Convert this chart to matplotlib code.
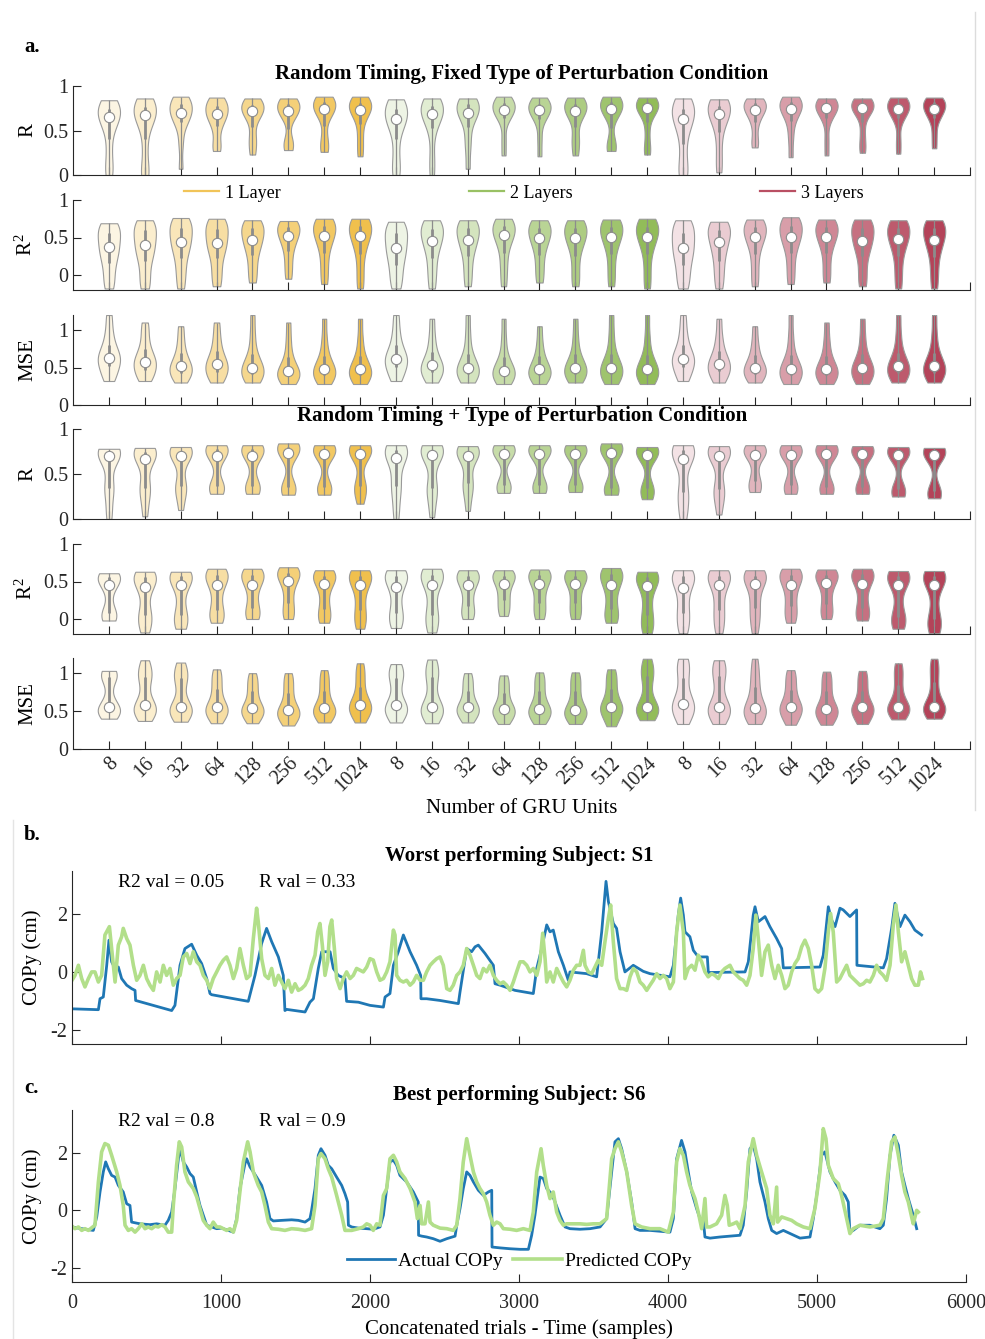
import numpy as np
import matplotlib.pyplot as plt
from matplotlib.colors import to_rgba
from matplotlib.lines import Line2D

plt.rcParams['font.family'] = ['Liberation Serif', 'DejaVu Serif']
plt.rcParams['mathtext.fontset'] = 'custom'
plt.rcParams['mathtext.rm'] = 'Liberation Serif'
plt.rcParams['mathtext.it'] = 'Liberation Serif:italic'
plt.rcParams['axes.unicode_minus'] = False

# ---------------- data ----------------
units = ['8', '16', '32', '64', '128', '256', '512', '1024']
layers = ['1 Layer', '2 Layers', '3 Layers']
layer_colors = ['#EDB120', '#77AC30', '#A2142F']

# Random timing, fixed type: per-subject scores for each network (3 layers x 8 sizes)
fixed_R = [
    [0.0, 0.1, 0.3, 0.5, 0.6, 0.65, 0.68, 0.72, 0.76, 0.8, 0.84],
    [0.0, 0.05, 0.3, 0.52, 0.62, 0.67, 0.7, 0.74, 0.78, 0.82, 0.86],
    [0.07, 0.35, 0.55, 0.63, 0.67, 0.70, 0.74, 0.78, 0.82, 0.85, 0.88],
    [0.27, 0.35, 0.5, 0.6, 0.65, 0.68, 0.72, 0.76, 0.8, 0.84, 0.87],
    [0.23, 0.35, 0.45, 0.62, 0.68, 0.72, 0.74, 0.77, 0.8, 0.83, 0.86],
    [0.28, 0.33, 0.4, 0.63, 0.69, 0.72, 0.75, 0.78, 0.81, 0.84, 0.86],
    [0.26, 0.32, 0.45, 0.65, 0.7, 0.74, 0.77, 0.8, 0.83, 0.86, 0.88],
    [0.21, 0.35, 0.5, 0.64, 0.7, 0.73, 0.76, 0.79, 0.82, 0.85, 0.88],
    [0.0, 0.1, 0.3, 0.5, 0.58, 0.63, 0.67, 0.72, 0.77, 0.81, 0.85],
    [0.0, 0.2, 0.45, 0.6, 0.65, 0.68, 0.72, 0.76, 0.8, 0.83, 0.86],
    [0.07, 0.3, 0.45, 0.62, 0.67, 0.70, 0.74, 0.78, 0.81, 0.84, 0.86],
    [0.22, 0.4, 0.6, 0.67, 0.71, 0.73, 0.76, 0.79, 0.82, 0.85, 0.88],
    [0.21, 0.4, 0.58, 0.67, 0.7, 0.73, 0.75, 0.78, 0.81, 0.84, 0.87],
    [0.22, 0.35, 0.45, 0.62, 0.68, 0.72, 0.75, 0.78, 0.81, 0.84, 0.87],
    [0.27, 0.3, 0.4, 0.65, 0.7, 0.74, 0.77, 0.8, 0.83, 0.86, 0.88],
    [0.23, 0.32, 0.5, 0.68, 0.72, 0.75, 0.77, 0.8, 0.83, 0.85, 0.87],
    [0.0, 0.05, 0.25, 0.45, 0.56, 0.63, 0.68, 0.72, 0.77, 0.82, 0.86],
    [0.03, 0.2, 0.4, 0.56, 0.63, 0.68, 0.72, 0.76, 0.8, 0.83, 0.85],
    [0.31, 0.4, 0.55, 0.65, 0.7, 0.73, 0.76, 0.79, 0.82, 0.84, 0.86],
    [0.2, 0.4, 0.55, 0.66, 0.71, 0.74, 0.77, 0.8, 0.83, 0.86, 0.88],
    [0.22, 0.4, 0.6, 0.68, 0.72, 0.75, 0.77, 0.8, 0.82, 0.84, 0.86],
    [0.25, 0.35, 0.5, 0.68, 0.72, 0.75, 0.77, 0.79, 0.82, 0.84, 0.86],
    [0.24, 0.4, 0.6, 0.68, 0.71, 0.74, 0.77, 0.8, 0.82, 0.85, 0.87],
    [0.3, 0.45, 0.6, 0.67, 0.71, 0.74, 0.77, 0.8, 0.83, 0.85, 0.87],
]
fixed_R2 = [
    [-0.18, -0.05, 0.1, 0.22, 0.3, 0.37, 0.45, 0.52, 0.6, 0.65, 0.69],
    [-0.18, -0.05, 0.12, 0.25, 0.33, 0.40, 0.48, 0.56, 0.63, 0.68, 0.73],
    [-0.18, 0.0, 0.15, 0.3, 0.38, 0.44, 0.52, 0.6, 0.66, 0.71, 0.76],
    [-0.15, 0.0, 0.15, 0.3, 0.37, 0.43, 0.51, 0.59, 0.65, 0.7, 0.75],
    [-0.1, 0.05, 0.2, 0.33, 0.41, 0.47, 0.53, 0.6, 0.65, 0.69, 0.73],
    [-0.05, 0.1, 0.25, 0.38, 0.46, 0.52, 0.57, 0.62, 0.66, 0.69, 0.72],
    [-0.12, 0.05, 0.22, 0.37, 0.46, 0.52, 0.58, 0.63, 0.68, 0.72, 0.75],
    [-0.18, 0.0, 0.2, 0.36, 0.45, 0.52, 0.58, 0.63, 0.68, 0.72, 0.75],
    [-0.18, -0.05, 0.08, 0.2, 0.29, 0.36, 0.44, 0.52, 0.59, 0.65, 0.71],
    [-0.18, 0.0, 0.15, 0.3, 0.4, 0.46, 0.53, 0.59, 0.64, 0.69, 0.73],
    [-0.15, 0.02, 0.18, 0.32, 0.41, 0.47, 0.54, 0.6, 0.65, 0.69, 0.73],
    [-0.15, 0.05, 0.22, 0.38, 0.47, 0.53, 0.58, 0.63, 0.67, 0.71, 0.75],
    [-0.1, 0.05, 0.2, 0.34, 0.43, 0.49, 0.55, 0.6, 0.65, 0.69, 0.73],
    [-0.15, 0.0, 0.18, 0.34, 0.43, 0.49, 0.55, 0.6, 0.65, 0.69, 0.73],
    [-0.15, 0.02, 0.2, 0.36, 0.45, 0.51, 0.57, 0.62, 0.67, 0.71, 0.74],
    [-0.18, 0.0, 0.2, 0.36, 0.45, 0.51, 0.57, 0.62, 0.67, 0.71, 0.75],
    [-0.18, -0.05, 0.08, 0.2, 0.29, 0.36, 0.44, 0.52, 0.6, 0.67, 0.73],
    [-0.18, -0.02, 0.12, 0.26, 0.36, 0.44, 0.51, 0.58, 0.63, 0.67, 0.71],
    [-0.15, 0.02, 0.2, 0.36, 0.45, 0.51, 0.57, 0.62, 0.66, 0.7, 0.74],
    [-0.12, 0.05, 0.22, 0.37, 0.45, 0.51, 0.57, 0.63, 0.68, 0.73, 0.77],
    [-0.1, 0.05, 0.22, 0.37, 0.45, 0.51, 0.57, 0.62, 0.66, 0.7, 0.74],
    [-0.15, 0.0, 0.18, 0.32, 0.4, 0.46, 0.53, 0.6, 0.65, 0.7, 0.74],
    [-0.18, 0.0, 0.18, 0.33, 0.42, 0.48, 0.54, 0.6, 0.65, 0.69, 0.73],
    [-0.18, 0.0, 0.17, 0.32, 0.41, 0.47, 0.54, 0.6, 0.65, 0.69, 0.73],
]
fixed_MSE = [
    [0.32, 0.4, 0.48, 0.55, 0.6, 0.63, 0.68, 0.75, 0.85, 1.0, 1.2],
    [0.32, 0.38, 0.44, 0.5, 0.55, 0.58, 0.63, 0.7, 0.8, 0.95, 1.1],
    [0.3, 0.36, 0.41, 0.45, 0.49, 0.52, 0.57, 0.64, 0.74, 0.88, 1.05],
    [0.3, 0.36, 0.42, 0.47, 0.51, 0.55, 0.6, 0.67, 0.78, 0.92, 1.1],
    [0.3, 0.35, 0.39, 0.43, 0.47, 0.5, 0.55, 0.62, 0.75, 0.95, 1.2],
    [0.28, 0.33, 0.37, 0.4, 0.43, 0.45, 0.5, 0.58, 0.7, 0.88, 1.1],
    [0.28, 0.34, 0.38, 0.42, 0.45, 0.48, 0.53, 0.6, 0.72, 0.9, 1.15],
    [0.28, 0.34, 0.38, 0.42, 0.45, 0.48, 0.53, 0.6, 0.72, 0.9, 1.15],
    [0.32, 0.4, 0.48, 0.54, 0.59, 0.62, 0.67, 0.74, 0.85, 1.0, 1.2],
    [0.3, 0.37, 0.42, 0.46, 0.5, 0.53, 0.58, 0.65, 0.77, 0.93, 1.15],
    [0.3, 0.35, 0.4, 0.44, 0.47, 0.5, 0.55, 0.62, 0.75, 0.95, 1.2],
    [0.28, 0.33, 0.37, 0.41, 0.44, 0.46, 0.51, 0.58, 0.7, 0.9, 1.15],
    [0.28, 0.34, 0.38, 0.42, 0.45, 0.48, 0.53, 0.6, 0.7, 0.85, 1.05],
    [0.3, 0.35, 0.4, 0.44, 0.47, 0.5, 0.55, 0.62, 0.74, 0.92, 1.15],
    [0.28, 0.34, 0.39, 0.43, 0.47, 0.5, 0.55, 0.62, 0.75, 0.95, 1.2],
    [0.28, 0.33, 0.38, 0.42, 0.45, 0.48, 0.53, 0.6, 0.73, 0.93, 1.2],
    [0.32, 0.4, 0.48, 0.54, 0.59, 0.62, 0.67, 0.74, 0.85, 1.0, 1.2],
    [0.3, 0.37, 0.43, 0.48, 0.52, 0.55, 0.6, 0.67, 0.78, 0.93, 1.15],
    [0.3, 0.35, 0.4, 0.44, 0.47, 0.5, 0.55, 0.62, 0.72, 0.86, 1.05],
    [0.28, 0.33, 0.38, 0.42, 0.45, 0.48, 0.53, 0.6, 0.73, 0.93, 1.2],
    [0.28, 0.33, 0.38, 0.42, 0.45, 0.48, 0.53, 0.6, 0.72, 0.88, 1.1],
    [0.28, 0.34, 0.39, 0.43, 0.47, 0.5, 0.55, 0.62, 0.74, 0.92, 1.15],
    [0.3, 0.36, 0.41, 0.45, 0.49, 0.52, 0.57, 0.64, 0.76, 0.95, 1.2],
    [0.3, 0.36, 0.41, 0.45, 0.49, 0.52, 0.57, 0.64, 0.76, 0.95, 1.2],
]

# Random timing + type
rand_R = [
    [0.0, 0.12, 0.3, 0.35, 0.4, 0.64, 0.70, 0.72, 0.74, 0.75, 0.76, 0.77, 0.78],
    [0.03, 0.18, 0.3, 0.35, 0.4, 0.6, 0.67, 0.7, 0.73, 0.75, 0.77, 0.78, 0.79],
    [0.1, 0.25, 0.32, 0.37, 0.42, 0.62, 0.70, 0.72, 0.74, 0.76, 0.78, 0.79, 0.8],
    [0.28, 0.31, 0.34, 0.37, 0.41, 0.62, 0.70, 0.73, 0.76, 0.78, 0.8, 0.81, 0.82],
    [0.28, 0.31, 0.34, 0.37, 0.42, 0.62, 0.70, 0.73, 0.76, 0.78, 0.8, 0.81, 0.82],
    [0.27, 0.3, 0.33, 0.36, 0.4, 0.66, 0.73, 0.76, 0.78, 0.8, 0.82, 0.83, 0.84],
    [0.27, 0.3, 0.33, 0.36, 0.4, 0.65, 0.72, 0.74, 0.76, 0.78, 0.8, 0.81, 0.82],
    [0.17, 0.27, 0.33, 0.37, 0.42, 0.65, 0.72, 0.74, 0.76, 0.78, 0.8, 0.81, 0.82],
    [0.0, 0.15, 0.3, 0.37, 0.45, 0.6, 0.68, 0.71, 0.74, 0.77, 0.79, 0.81, 0.82],
    [0.02, 0.18, 0.3, 0.35, 0.4, 0.64, 0.71, 0.73, 0.75, 0.77, 0.79, 0.81, 0.82],
    [0.09, 0.25, 0.34, 0.4, 0.46, 0.63, 0.70, 0.72, 0.74, 0.76, 0.78, 0.8, 0.81],
    [0.29, 0.32, 0.35, 0.38, 0.42, 0.66, 0.72, 0.74, 0.76, 0.78, 0.8, 0.81, 0.82],
    [0.29, 0.32, 0.35, 0.38, 0.42, 0.66, 0.72, 0.74, 0.76, 0.78, 0.8, 0.81, 0.82],
    [0.3, 0.32, 0.35, 0.38, 0.42, 0.66, 0.72, 0.74, 0.76, 0.78, 0.8, 0.81, 0.82],
    [0.27, 0.3, 0.33, 0.35, 0.38, 0.67, 0.73, 0.76, 0.78, 0.8, 0.82, 0.83, 0.84],
    [0.22, 0.27, 0.31, 0.34, 0.38, 0.65, 0.71, 0.73, 0.75, 0.77, 0.78, 0.79, 0.8],
    [0.0, 0.1, 0.22, 0.3, 0.36, 0.6, 0.67, 0.71, 0.74, 0.77, 0.79, 0.81, 0.82],
    [0.05, 0.2, 0.28, 0.33, 0.4, 0.63, 0.70, 0.72, 0.74, 0.76, 0.78, 0.8, 0.81],
    [0.3, 0.33, 0.37, 0.42, 0.5, 0.65, 0.71, 0.73, 0.75, 0.77, 0.79, 0.81, 0.82],
    [0.28, 0.31, 0.34, 0.38, 0.44, 0.65, 0.71, 0.73, 0.75, 0.77, 0.79, 0.81, 0.82],
    [0.28, 0.3, 0.33, 0.36, 0.4, 0.67, 0.72, 0.74, 0.76, 0.78, 0.8, 0.81, 0.82],
    [0.28, 0.3, 0.33, 0.36, 0.4, 0.67, 0.72, 0.74, 0.76, 0.77, 0.79, 0.8, 0.81],
    [0.25, 0.27, 0.3, 0.33, 0.37, 0.67, 0.71, 0.73, 0.75, 0.76, 0.78, 0.79, 0.8],
    [0.23, 0.25, 0.28, 0.31, 0.35, 0.67, 0.71, 0.73, 0.74, 0.76, 0.77, 0.78, 0.79],
]
rand_R2 = [
    [-0.02, 0.0, 0.04, 0.08, 0.15, 0.35, 0.46, 0.5, 0.53, 0.56, 0.58, 0.6, 0.61],
    [-0.18, -0.1, 0.0, 0.05, 0.12, 0.3, 0.43, 0.48, 0.52, 0.56, 0.59, 0.61, 0.63],
    [-0.13, -0.08, 0.0, 0.05, 0.15, 0.32, 0.45, 0.5, 0.54, 0.57, 0.6, 0.62, 0.63],
    [-0.05, 0.0, 0.05, 0.12, 0.22, 0.35, 0.45, 0.5, 0.55, 0.59, 0.62, 0.65, 0.67],
    [0.0, 0.03, 0.08, 0.15, 0.25, 0.37, 0.46, 0.51, 0.55, 0.59, 0.62, 0.65, 0.67],
    [0.0, 0.05, 0.12, 0.22, 0.32, 0.43, 0.51, 0.55, 0.59, 0.62, 0.65, 0.67, 0.69],
    [-0.05, 0.0, 0.06, 0.14, 0.25, 0.38, 0.47, 0.51, 0.55, 0.58, 0.61, 0.63, 0.65],
    [-0.13, -0.05, 0.03, 0.12, 0.23, 0.36, 0.45, 0.5, 0.54, 0.58, 0.61, 0.63, 0.65],
    [-0.12, -0.05, 0.02, 0.08, 0.18, 0.32, 0.43, 0.49, 0.54, 0.58, 0.61, 0.63, 0.65],
    [-0.18, -0.1, 0.0, 0.06, 0.16, 0.33, 0.46, 0.51, 0.55, 0.59, 0.62, 0.65, 0.67],
    [0.0, 0.05, 0.1, 0.18, 0.28, 0.38, 0.46, 0.5, 0.54, 0.58, 0.61, 0.63, 0.65],
    [0.04, 0.1, 0.18, 0.25, 0.32, 0.4, 0.47, 0.51, 0.55, 0.58, 0.61, 0.63, 0.65],
    [0.0, 0.06, 0.14, 0.22, 0.3, 0.4, 0.47, 0.51, 0.55, 0.59, 0.62, 0.64, 0.66],
    [0.0, 0.06, 0.14, 0.22, 0.3, 0.4, 0.47, 0.51, 0.55, 0.58, 0.61, 0.63, 0.65],
    [-0.05, 0.0, 0.06, 0.14, 0.25, 0.37, 0.45, 0.5, 0.55, 0.6, 0.63, 0.66, 0.68],
    [-0.19, -0.12, -0.05, 0.05, 0.15, 0.3, 0.44, 0.49, 0.53, 0.56, 0.59, 0.61, 0.63],
    [-0.19, -0.1, 0.0, 0.08, 0.18, 0.3, 0.42, 0.48, 0.53, 0.57, 0.6, 0.63, 0.65],
    [-0.19, -0.08, 0.02, 0.12, 0.22, 0.35, 0.46, 0.5, 0.54, 0.58, 0.61, 0.63, 0.65],
    [-0.19, -0.05, 0.05, 0.15, 0.25, 0.37, 0.47, 0.51, 0.55, 0.58, 0.61, 0.63, 0.65],
    [-0.05, 0.02, 0.1, 0.18, 0.28, 0.38, 0.46, 0.51, 0.55, 0.59, 0.62, 0.65, 0.67],
    [0.0, 0.05, 0.12, 0.2, 0.3, 0.4, 0.48, 0.52, 0.56, 0.59, 0.62, 0.64, 0.66],
    [-0.02, 0.02, 0.08, 0.15, 0.25, 0.38, 0.47, 0.52, 0.56, 0.6, 0.63, 0.65, 0.67],
    [-0.13, -0.08, -0.02, 0.03, 0.12, 0.3, 0.46, 0.5, 0.54, 0.57, 0.6, 0.62, 0.64],
    [-0.19, -0.13, -0.06, 0.0, 0.1, 0.3, 0.46, 0.5, 0.54, 0.57, 0.6, 0.62, 0.64],
]
rand_MSE = [
    [0.4, 0.44, 0.48, 0.51, 0.53, 0.55, 0.56, 0.7, 0.88, 0.95, 0.99, 1.01, 1.03],
    [0.37, 0.43, 0.48, 0.52, 0.55, 0.57, 0.58, 0.72, 0.88, 0.95, 1.0, 1.08, 1.17],
    [0.36, 0.42, 0.47, 0.51, 0.53, 0.55, 0.56, 0.7, 0.86, 0.93, 0.98, 1.06, 1.14],
    [0.34, 0.4, 0.45, 0.49, 0.52, 0.54, 0.55, 0.62, 0.7, 0.79, 0.88, 0.97, 1.05],
    [0.34, 0.39, 0.44, 0.48, 0.51, 0.53, 0.54, 0.6, 0.68, 0.76, 0.84, 0.92, 1.0],
    [0.31, 0.36, 0.41, 0.45, 0.48, 0.5, 0.51, 0.57, 0.65, 0.74, 0.83, 0.92, 1.0],
    [0.35, 0.4, 0.44, 0.48, 0.51, 0.53, 0.54, 0.6, 0.68, 0.77, 0.86, 0.95, 1.04],
    [0.35, 0.42, 0.47, 0.52, 0.55, 0.57, 0.58, 0.64, 0.72, 0.82, 0.93, 1.03, 1.13],
    [0.35, 0.42, 0.48, 0.52, 0.55, 0.57, 0.58, 0.72, 0.86, 0.94, 1.0, 1.06, 1.12],
    [0.34, 0.41, 0.47, 0.51, 0.53, 0.55, 0.56, 0.7, 0.86, 0.95, 1.02, 1.1, 1.18],
    [0.35, 0.4, 0.45, 0.49, 0.52, 0.54, 0.55, 0.61, 0.68, 0.76, 0.84, 0.92, 1.0],
    [0.33, 0.38, 0.43, 0.47, 0.5, 0.52, 0.53, 0.59, 0.66, 0.74, 0.82, 0.9, 0.97],
    [0.33, 0.38, 0.43, 0.47, 0.5, 0.52, 0.53, 0.6, 0.67, 0.76, 0.85, 0.93, 1.01],
    [0.33, 0.38, 0.42, 0.46, 0.49, 0.51, 0.52, 0.59, 0.67, 0.76, 0.85, 0.93, 1.01],
    [0.3, 0.37, 0.44, 0.5, 0.53, 0.55, 0.56, 0.62, 0.7, 0.79, 0.88, 0.97, 1.05],
    [0.38, 0.44, 0.49, 0.52, 0.54, 0.55, 0.56, 0.72, 0.88, 0.96, 1.03, 1.11, 1.19],
    [0.33, 0.4, 0.47, 0.53, 0.57, 0.59, 0.6, 0.7, 0.82, 0.94, 1.05, 1.13, 1.19],
    [0.33, 0.4, 0.46, 0.51, 0.54, 0.55, 0.56, 0.7, 0.86, 0.96, 1.04, 1.11, 1.17],
    [0.33, 0.38, 0.43, 0.48, 0.51, 0.53, 0.54, 0.62, 0.72, 0.82, 0.93, 1.05, 1.19],
    [0.32, 0.38, 0.44, 0.49, 0.53, 0.55, 0.56, 0.62, 0.7, 0.78, 0.87, 0.96, 1.04],
    [0.32, 0.37, 0.42, 0.47, 0.5, 0.52, 0.53, 0.59, 0.67, 0.76, 0.85, 0.94, 1.02],
    [0.33, 0.38, 0.44, 0.49, 0.52, 0.54, 0.55, 0.6, 0.68, 0.77, 0.86, 0.95, 1.03],
    [0.39, 0.44, 0.48, 0.52, 0.54, 0.55, 0.56, 0.63, 0.73, 0.84, 0.95, 1.05, 1.13],
    [0.4, 0.45, 0.49, 0.52, 0.54, 0.55, 0.56, 0.64, 0.76, 0.88, 1.0, 1.1, 1.19],
]

# COPy traces (sample index, cm)
worst_actual = [
    (0, -1.28), (177, -1.31), (188, -0.93), (210, -0.87), (233, 0.23), (248, 1.10), (266, 0.35),
    (289, 0.12), (311, 0.17), (333, -0.23), (367, -0.46), (400, -0.58), (423, -0.64), (427, -0.99),
    (669, -1.34), (691, -1.16), (725, 0.23), (758, 0.81), (803, 0.96), (837, 0.58), (870, 0.29),
    (904, -0.23), (926, -0.75), (937, -0.79), (1183, -1.02), (1228, -0.12), (1273, 0.99), (1306, 1.51),
    (1340, 1.05), (1385, 0.52), (1418, -0.12), (1429, -1.34), (1441, -1.30), (1564, -1.39), (1597, -1.05),
    (1620, -0.93), (1653, 0.12), (1676, 0.70), (1732, 0.70), (1754, 0.12), (1787, -0.12), (1832, -0.23),
    (1843, -1.02), (1922, -1.05), (2000, -1.16), (2090, -1.22), (2101, -0.87), (2134, -0.75),
    (2157, 0.23), (2190, 0.70), (2224, 1.28), (2269, 0.70), (2313, 0.23), (2340, -0.12), (2342, -0.93),
    (2380, -0.93), (2470, -0.99), (2593, -1.10), (2604, -0.70), (2649, 0.81), (2682, 0.70), (2705, 0.87),
    (2727, 0.93), (2772, 0.64), (2828, 0.23), (2839, -0.41), (2873, -0.46), (2940, -0.58), (2973, -0.64),
    (3096, -0.75), (3119, 0.12), (3152, 0.81), (3186, 1.63), (3208, 1.39), (3230, 1.45), (3264, 0.70),
    (3298, 0.23), (3331, -0.29), (3342, 0.0), (3454, -0.06), (3521, -0.17), (3555, 1.39), (3584, 3.14),
    (3600, 2.44), (3633, 1.68), (3655, 1.51), (3678, 0.70), (3711, 0.0), (3767, 0.23), (3834, 0.02),
    (3879, -0.06), (4013, -0.17), (4036, 0.23), (4069, 1.97), (4085, 2.56), (4103, 1.97), (4114, 1.39),
    (4147, 1.22), (4170, 0.75), (4203, 0.52), (4264, 0.52), (4271, -0.06), (4282, -0.02), (4517, 0.0),
    (4539, 0.35), (4572, 1.97), (4584, 2.26), (4606, 1.74), (4651, 1.92), (4684, 1.57), (4729, 1.16),
    (4763, 0.81), (4774, 0.14), (5020, 0.17), (5042, 0.58), (5076, 2.26), (5098, 1.80), (5121, 1.57),
    (5154, 2.21), (5176, 2.15), (5221, 1.92), (5266, 2.15), (5268, 0.23), (5445, 0.14), (5467, 0.46),
    (5501, 1.51), (5523, 2.38), (5557, 1.57), (5590, 1.97), (5624, 1.74), (5657, 1.45), (5702, 1.28),
]
worst_pred = [
    (0, -0.29), (20, -0.12), (43, 0.23), (65, -0.23), (87, -0.52), (110, -0.23), (132, 0.0), (154, 0.0),
    (177, -0.35), (199, -0.12), (221, 1.28), (251, 1.57), (266, 0.81), (289, -0.35), (311, 0.93),
    (333, 1.22), (344, 1.51), (367, 1.16), (389, 0.93), (412, 0.23), (434, -0.29), (456, -0.12),
    (479, 0.23), (501, -0.23), (523, -0.46), (546, -0.64), (568, 0.0), (591, -0.35), (613, 0.23),
    (635, -0.12), (658, 0.12), (680, -0.46), (702, -0.23), (725, -0.12), (747, 0.52), (770, 0.64),
    (792, 0.29), (814, 0.70), (837, 0.35), (859, 0.23), (881, -0.12), (904, -0.29), (926, -0.58),
    (948, -0.23), (971, 0.0), (993, 0.23), (1016, 0.41), (1038, 0.52), (1060, 0.23), (1083, -0.23),
    (1105, 0.12), (1127, 0.81), (1150, 0.23), (1172, -0.23), (1195, -0.12), (1217, 1.16), (1239, 2.21),
    (1250, 1.74), (1273, 0.46), (1295, -0.12), (1318, -0.23), (1340, 0.12), (1362, -0.46), (1385, -0.12),
    (1407, -0.35), (1429, -0.58), (1452, -0.29), (1474, -0.70), (1497, -0.41), (1519, -0.64),
    (1541, -0.58), (1564, -0.46), (1586, -0.23), (1608, 0.23), (1631, 0.58), (1649, 1.39), (1664, 1.68),
    (1680, 0.93), (1698, -0.12), (1716, 0.35), (1731, 1.57), (1743, 1.80), (1761, 0.81), (1776, -0.23),
    (1799, -0.58), (1821, -0.23), (1843, 0.0), (1866, -0.23), (1888, -0.12), (1910, 0.12), (1933, 0.06),
    (1955, 0.0), (1978, 0.17), (2000, 0.46), (2022, 0.41), (2045, 0.0), (2067, -0.29), (2090, -0.23),
    (2112, 0.0), (2134, 0.35), (2157, 1.45), (2168, 1.28), (2179, -0.12), (2201, -0.29), (2224, -0.35),
    (2246, -0.29), (2269, -0.46), (2291, -0.35), (2313, -0.12), (2336, -0.29), (2358, -0.29), (2380, 0.0),
    (2403, 0.23), (2425, 0.35), (2448, 0.46), (2470, 0.52), (2492, 0.23), (2515, -0.58), (2537, -0.64),
    (2559, -0.46), (2582, -0.12), (2604, 0.0), (2626, 0.23), (2649, 0.81), (2671, 0.58), (2694, 0.23),
    (2716, -0.12), (2738, -0.23), (2761, 0.12), (2783, 0.0), (2805, 0.23), (2828, -0.12), (2850, -0.29),
    (2873, -0.41), (2895, -0.35), (2917, -0.46), (2940, -0.64), (2962, -0.35), (2984, 0.0), (3007, 0.35),
    (3029, 0.35), (3052, 0.23), (3074, 0.0), (3096, 0.12), (3119, -0.12), (3141, 0.35), (3159, 1.34),
    (3175, 0.46), (3186, -0.35), (3208, 0.0), (3230, -0.35), (3253, 0.12), (3275, -0.12), (3298, -0.35),
    (3320, -0.52), (3342, -0.29), (3365, 0.06), (3387, 0.23), (3409, 0.23), (3432, 0.75), (3443, 0.23),
    (3465, 0.0), (3488, -0.06), (3510, 0.17), (3532, 0.41), (3555, 0.23), (3577, 1.05), (3600, 1.86),
    (3615, 2.32), (3633, 1.05), (3655, -0.23), (3678, -0.58), (3700, -0.58), (3723, -0.64), (3745, -0.17),
    (3767, 0.12), (3790, 0.0), (3812, -0.35), (3834, -0.46), (3857, -0.64), (3879, -0.46), (3901, -0.29),
    (3924, -0.06), (3946, -0.23), (3968, -0.12), (3991, -0.23), (4013, -0.58), (4036, -0.35), (4058, 1.39),
    (4080, 2.32), (4103, 1.39), (4114, -0.23), (4136, 0.12), (4159, 0.23), (4181, 0.06), (4203, 0.58),
    (4226, 0.35), (4248, 0.0), (4270, -0.17), (4293, -0.06), (4315, -0.12), (4338, -0.23), (4360, 0.0),
    (4382, 0.12), (4416, 0.23), (4438, 0.0), (4461, -0.12), (4483, -0.23), (4505, -0.29), (4528, -0.46),
    (4550, -0.12), (4572, 0.81), (4590, 1.97), (4606, 1.16), (4628, -0.12), (4651, 0.70), (4673, 0.93),
    (4696, 0.23), (4718, -0.23), (4740, 0.23), (4763, -0.12), (4785, -0.58), (4807, -0.46), (4830, 0.0),
    (4852, 0.29), (4874, 0.46), (4897, 0.87), (4919, 1.10), (4942, 0.81), (4964, 0.23), (4986, -0.58),
    (5009, -0.70), (5031, -0.58), (5053, 0.12), (5076, 1.39), (5091, 2.03), (5109, 1.39), (5132, -0.35),
    (5154, -0.23), (5176, 0.0), (5199, 0.23), (5221, -0.12), (5243, -0.23), (5266, -0.35), (5288, -0.46),
    (5311, -0.41), (5333, -0.29), (5355, -0.35), (5378, -0.12), (5400, 0.23), (5422, 0.0), (5445, -0.12),
    (5467, -0.29), (5490, 0.23), (5512, 1.63), (5530, 2.32), (5546, 1.39), (5568, 0.35), (5590, 0.70),
    (5613, 0.23), (5635, -0.23), (5657, -0.46), (5680, -0.46), (5695, 0.0), (5708, -0.23),
]
best_actual = [
    (0, -0.58), (65, -0.64), (143, -0.70), (166, -0.23), (188, 0.64), (210, 1.34), (226, 1.69),
    (244, 1.45), (266, 1.22), (289, 1.16), (311, 0.87), (344, 0.64), (367, 0.23), (389, 0.17),
    (400, -0.41), (456, -0.47), (523, -0.50), (568, -0.47), (624, -0.52), (646, -0.35), (669, -0.06),
    (691, 0.76), (714, 1.80), (725, 2.15), (747, 1.69), (770, 1.51), (792, 1.28), (814, 1.16), (837, 0.64),
    (859, 0.17), (881, -0.17), (904, -0.52), (971, -0.64), (1004, -0.62), (1049, -0.70), (1083, -0.76),
    (1105, -0.29), (1127, 0.76), (1161, 1.63), (1172, 1.80), (1195, 1.51), (1217, 1.34), (1239, 1.16),
    (1273, 0.87), (1306, 0.29), (1329, -0.29), (1351, -0.37), (1407, -0.35), (1474, -0.33), (1519, -0.35),
    (1564, -0.41), (1597, -0.29), (1608, 0.0), (1631, 0.76), (1653, 1.92), (1671, 2.15), (1698, 1.92),
    (1720, 1.57), (1743, 1.45), (1776, 1.16), (1810, 0.87), (1832, 0.58), (1850, 0.29), (1855, -0.52),
    (1877, -0.58), (1922, -0.62), (1978, -0.64), (2022, -0.66), (2067, -0.58), (2090, -0.17),
    (2112, 0.76), (2134, 1.69), (2157, 1.75), (2179, 1.57), (2201, 1.22), (2246, 0.99), (2291, 0.64),
    (2324, 0.29), (2326, -0.87), (2347, -0.90), (2380, -0.93), (2425, -0.99), (2470, -1.08), (2515, -0.99),
    (2571, -0.90), (2582, -0.52), (2604, 0.06), (2626, 0.76), (2649, 1.34), (2671, 1.22), (2694, 0.99),
    (2727, 0.70), (2761, 0.52), (2794, 0.64), (2817, 0.70), (2819, -1.28), (2873, -1.31), (2940, -1.34),
    (3007, -1.36), (3063, -1.36), (3085, -0.87), (3107, -0.17), (3141, 1.16), (3163, 1.11), (3186, 0.76),
    (3219, 0.58), (3242, 0.29), (3275, -0.17), (3309, -0.58), (3342, -0.64), (3409, -0.66), (3477, -0.64),
    (3544, -0.58), (3588, -0.29), (3622, 1.34), (3644, 2.39), (3667, 2.50), (3689, 2.15), (3723, 1.34),
    (3756, 0.29), (3779, -0.64), (3812, -0.70), (3879, -0.70), (3946, -0.73), (4013, -0.76), (4036, -0.29),
    (4058, 1.80), (4091, 2.44), (4114, 2.04), (4136, 1.34), (4159, 0.64), (4192, 0.06), (4215, -0.29),
    (4237, -0.35), (4248, -0.93), (4282, -0.97), (4349, -0.93), (4416, -0.90), (4483, -0.87), (4505, -0.52),
    (4528, 0.64), (4550, 2.15), (4572, 2.27), (4595, 1.80), (4617, 0.99), (4651, 0.29), (4673, -0.29),
    (4696, -0.70), (4729, -0.81), (4774, -0.70), (4819, -0.81), (4886, -0.97), (4953, -0.93), (4975, -0.29),
    (4998, 0.52), (5031, 1.92), (5053, 2.04), (5087, 1.34), (5121, 0.99), (5154, 0.70), (5188, 0.52),
    (5210, 0.29), (5221, -0.76), (5243, -0.70), (5288, -0.52), (5355, -0.52), (5422, -0.64), (5445, -0.52),
    (5467, 0.41), (5490, 1.92), (5516, 2.62), (5546, 2.27), (5568, 1.34), (5590, 0.87), (5613, 0.41),
    (5646, -0.17), (5669, -0.64),
]
best_pred = [
    (0, -0.55), (20, -0.64), (43, -0.58), (65, -0.70), (87, -0.64), (110, -0.70), (154, -0.52), (177, 0.99),
    (199, 2.04), (221, 2.33), (244, 2.27), (266, 1.92), (300, 1.34), (322, 0.87), (344, 0.17), (356, -0.52),
    (378, -0.70), (400, -0.64), (423, -0.76), (445, -0.64), (468, -0.47), (490, -0.64), (512, -0.58),
    (535, -0.64), (557, -0.55), (579, -0.58), (602, -0.50), (624, -0.58), (646, -0.76), (669, -0.76),
    (680, 0.17), (702, 1.57), (720, 2.39), (736, 2.21), (758, 1.34), (781, 0.99), (814, 0.76), (837, 0.47),
    (859, 0.06), (881, -0.35), (904, -0.52), (926, -0.64), (948, -0.41), (971, -0.58), (993, -0.58),
    (1016, -0.64), (1038, -0.70), (1060, -0.64), (1083, -0.76), (1105, -0.35), (1127, 0.64), (1150, 1.69),
    (1179, 2.39), (1195, 2.04), (1217, 1.34), (1250, 0.87), (1273, 0.64), (1295, 0.17), (1318, -0.41),
    (1340, -0.64), (1385, -0.66), (1429, -0.70), (1474, -0.64), (1519, -0.66), (1564, -0.70), (1608, -0.64),
    (1631, 0.17), (1653, 1.80), (1671, 1.98), (1698, 1.80), (1720, 1.45), (1743, 1.16), (1776, 0.52),
    (1810, -0.17), (1832, -0.70), (1877, -0.70), (1922, -0.64), (1955, -0.58), (1978, -0.47), (2000, -0.52),
    (2022, -0.70), (2045, -0.47), (2067, -0.52), (2090, 0.52), (2112, 0.76), (2134, 1.80), (2157, 1.92),
    (2179, 1.69), (2201, 1.34), (2235, 1.11), (2269, 0.76), (2302, 0.29), (2318, -0.29), (2336, 0.17),
    (2347, -0.47), (2369, -0.47), (2392, 0.29), (2403, -0.41), (2425, -0.52), (2470, -0.62), (2515, -0.64),
    (2559, -0.70), (2582, -0.52), (2604, 0.41), (2626, 1.69), (2649, 2.50), (2671, 1.92), (2694, 1.34),
    (2716, 0.99), (2738, 0.76), (2761, 0.58), (2783, 0.29), (2805, -0.17), (2828, -0.52), (2850, -0.41),
    (2873, -0.47), (2895, -0.64), (2940, -0.66), (2984, -0.70), (3029, -0.64), (3074, -0.70), (3096, -0.06),
    (3119, 1.34), (3148, 2.15), (3163, 1.57), (3186, 0.87), (3208, 0.41), (3230, 0.64), (3253, -0.06),
    (3275, -0.35), (3298, -0.52), (3320, -0.47), (3365, -0.47), (3409, -0.47), (3454, -0.49), (3499, -0.47),
    (3544, -0.47), (3588, -0.29), (3622, 1.80), (3644, 2.15), (3667, 2.39), (3689, 2.04), (3723, 1.34),
    (3756, 0.17), (3779, -0.47), (3823, -0.58), (3879, -0.64), (3946, -0.64), (4002, -0.76), (4036, -0.06),
    (4058, 1.69), (4080, 2.15), (4103, 1.92), (4125, 1.34), (4147, 0.87), (4181, 0.41), (4203, -0.06),
    (4226, -0.64), (4248, 0.41), (4259, -0.58), (4282, -0.58), (4326, -0.47), (4360, -0.17), (4382, 0.52),
    (4398, 0.17), (4411, -0.52), (4438, -0.47), (4461, -0.41), (4483, -0.64), (4517, 0.17), (4539, 1.69),
    (4572, 2.50), (4595, 1.92), (4628, 1.34), (4662, 0.76), (4684, -0.17), (4707, -0.47), (4729, 0.81),
    (4736, -0.41), (4763, -0.23), (4796, -0.29), (4830, -0.35), (4863, -0.47), (4908, -0.58), (4953, -0.64),
    (4986, 0.06), (5020, 1.34), (5042, 2.85), (5060, 2.50), (5076, 1.57), (5109, 1.11), (5143, 0.93),
    (5165, 0.52), (5199, -0.29), (5221, -0.81), (5243, -0.64), (5288, -0.52), (5355, -0.58), (5422, -0.52),
    (5445, -0.29), (5472, 1.11), (5501, 2.39), (5523, 2.56), (5546, 1.92), (5568, 1.22), (5590, 0.64),
    (5613, 0.29), (5635, -0.23), (5646, -0.47), (5669, 0.0), (5680, -0.06),
]

# ---------------- figure ----------------
W, H = 985, 1339
fig = plt.figure(figsize=(W / 100, H / 100), dpi=100)
axcol = '#262626'


def add_ax(left, top, right, bottom):
    return fig.add_axes([left / W, 1 - bottom / H, (right - left) / W, (bottom - top) / H])


def style(ax, size=14.5):
    for s in ['top', 'right']:
        ax.spines[s].set_visible(False)
    for s in ['left', 'bottom']:
        ax.spines[s].set_color(axcol)
        ax.spines[s].set_linewidth(0.8)
    ax.tick_params(direction='in', length=6, width=0.8, colors=axcol, labelsize=size)


pos = np.arange(1, 25)
alphas = np.linspace(0.12, 0.8, 8)


def violins(ax, data, ylim, ylabel, last=False):
    parts = ax.violinplot(data, positions=pos, widths=0.62, showextrema=False, bw_method=0.45)
    for i, body in enumerate(parts['bodies']):
        body.set_alpha(None)
        body.set_facecolor(to_rgba(layer_colors[i // 8], alphas[i % 8]))
        body.set_edgecolor('#9a9a9a')
        body.set_linewidth(0.8)
    for p, d in zip(pos, data):
        q1, med, q3 = np.percentile(d, [25, 50, 75])
        ax.vlines(p, min(d), max(d), color='#8c8c8c', lw=0.9, zorder=3)
        ax.vlines(p, q1, q3, color='#8c8c8c', lw=2.0, zorder=3)
        ax.scatter([p], [med], s=55, facecolor='white', edgecolor='#8c8c8c', lw=0.8, zorder=4)
    ax.set_xlim(0, 25)
    ax.set_ylim(*ylim)
    ax.set_yticks([0, 0.5, 1])
    ax.set_yticklabels(['0', '0.5', '1'])
    ax.set_xticks(list(pos) + [25])
    if last:
        ax.set_xticklabels(units * 3 + [''], rotation=45, ha='right', va='top',
                           rotation_mode='anchor')
    else:
        ax.set_xticklabels([])
    style(ax)
    ax.set_ylabel(ylabel, fontsize=15, color='black')
    ax.yaxis.set_label_coords(-0.040, 0.5)


rows = [(86, 175), (200, 290), (315, 405), (429, 519), (544, 634), (658, 749)]
panels = [
    (fixed_R, (0, 1), 'R'), (fixed_R2, (-0.2, 1), r'R$^{2}$'), (fixed_MSE, (0, 1.2), 'MSE'),
    (rand_R, (0, 1), 'R'), (rand_R2, (-0.2, 1), r'R$^{2}$'), (rand_MSE, (0, 1.2), 'MSE'),
]
axes_a = []
for k, ((top, bot), (data, yl, lab)) in enumerate(zip(rows, panels)):
    ax = add_ax(73, top, 970, bot)
    violins(ax, data, yl, lab, last=(k == 5))
    axes_a.append(ax)
axes_a[-1].set_xlabel('Number of GRU Units', fontsize=15, labelpad=2)

fig.text(522 / W, 1 - 74 / H, 'Random Timing, Fixed Type of Perturbation Condition',
         ha='center', va='center', fontsize=15, fontweight='bold')
fig.text(522 / W, 1 - 416 / H, 'Random Timing + Type of Perturbation Condition',
         ha='center', va='center', fontsize=15, fontweight='bold')

handles = [Line2D([], [], color=to_rgba(c, 0.75), lw=1.6) for c in layer_colors]
fig.legend(handles, layers, loc='center', bbox_to_anchor=(524 / W, 1 - 193 / H), ncol=3,
           frameon=False, fontsize=13, handlelength=1.95, handletextpad=0.33, columnspacing=10.4)


def trace(ax, actual, pred, title, r2txt, rtxt, xlabels):
    ax.plot(*zip(*actual), color='#1f77b4', lw=2.0, label='Actual COPy')
    ax.plot(*zip(*pred), color='#b2df8a', lw=2.6, label='Predicted COPy')
    ax.set_xlim(0, 6000)
    ax.set_ylim(-2.5, 3.5)
    ax.set_yticks([-2, 0, 2])
    ax.set_xticks(range(0, 6001, 1000))
    if not xlabels:
        ax.set_xticklabels([])
    style(ax)
    ax.tick_params(axis='x', pad=9)
    ax.set_title(title, fontsize=15, fontweight='bold', pad=7)
    ax.text(310, 3.1, r2txt, fontsize=14, va='center')
    ax.text(1255, 3.1, rtxt, fontsize=14, va='center')
    ax.set_ylabel('COPy (cm)', fontsize=15)
    ax.yaxis.set_label_coords(-0.034, 0.5)


ax_b = add_ax(72, 871, 966, 1044)
trace(ax_b, worst_actual, worst_pred, 'Worst performing Subject: S1',
      'R2 val = 0.05', 'R val = 0.33', False)
ax_c = add_ax(72, 1110, 966, 1282)
trace(ax_c, best_actual, best_pred, 'Best performing Subject: S6',
      'R2 val = 0.8', 'R val = 0.9', True)
ax_c.set_xlabel('Concatenated trials - Time (samples)', fontsize=15, labelpad=4)
ax_c.legend(loc='center', bbox_to_anchor=(0.5, 0.12), ncol=2, frameon=False, fontsize=14,
            handlelength=2.5, handletextpad=0.15, columnspacing=0.55)

for lbl, y in [('a.', 47), ('b.', 835), ('c.', 1088)]:
    fig.text(24 / W, 1 - y / H, lbl, fontsize=15, fontweight='bold', ha='left', va='center')

# faint frame lines of the composed figure
fig.add_artist(Line2D([975 / W, 975 / W], [1 - 12 / H, 1 - 810 / H], color='#dcdcdc', lw=1))
fig.add_artist(Line2D([13 / W, 13 / W], [1 - 820 / H, 0], color='#e4e4e4', lw=1))

fig.savefig('out.png', dpi=100)
